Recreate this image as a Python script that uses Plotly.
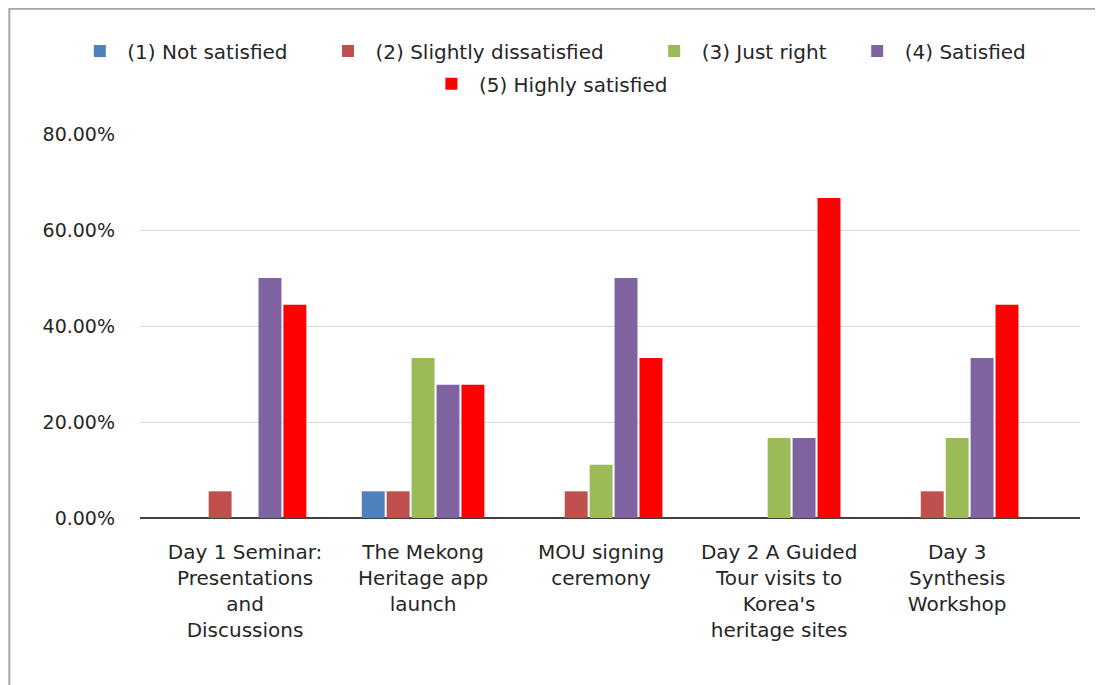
import plotly.graph_objects as go

# Share of respondents per rating, n = 18
events = [
    "Day 1 Seminar:<br>Presentations<br>and<br>Discussions",
    "The Mekong<br>Heritage app<br>launch",
    "MOU signing<br>ceremony",
    "Day 2 A Guided<br>Tour visits to<br>Korea's<br>heritage sites",
    "Day 3<br>Synthesis<br>Workshop",
]
not_satisfied = [0.0, 0.0556, 0.0, 0.0, 0.0]
slightly_dissatisfied = [0.0556, 0.0556, 0.0556, 0.0, 0.0556]
just_right = [0.0, 0.3333, 0.1111, 0.1667, 0.1667]
satisfied = [0.50, 0.2778, 0.50, 0.1667, 0.3333]
highly_satisfied = [0.4444, 0.2778, 0.3333, 0.6667, 0.4444]

series = [
    ("(1) Not satisfied", not_satisfied, "#4F81BD"),
    ("(2) Slightly dissatisfied", slightly_dissatisfied, "#C0504D"),
    ("(3) Just right", just_right, "#9BBB59"),
    ("(4) Satisfied", satisfied, "#8064A2"),
    ("(5) Highly satisfied", highly_satisfied, "#FF0000"),
]

# one legend per entry so the spacing can follow the original layout
legend_pos = [(-0.072, 1.216), (0.192, 1.216), (0.539, 1.216),
              (0.755, 1.216), (0.302, 1.131)]

text_color = "#262626"
tick_font = dict(family="DejaVu Sans", size=19, color=text_color)
cat_font = dict(family="DejaVu Sans", size=20, color=text_color)
leg_font = dict(family="DejaVu Sans", size=20, color=text_color)

fig = go.Figure()
for i, (name, vals, color) in enumerate(series):
    leg = "legend" if i == 0 else f"legend{i + 1}"
    fig.add_trace(
        go.Bar(
            x=events, y=vals, name=name, legend=leg, showlegend=True,
            marker=dict(color=color, line=dict(width=0)),
        )
    )

layout = dict(
    width=1103, height=685, showlegend=True,
    barmode="group", bargap=0.3, bargroupgap=0.08,
    margin=dict(l=132, r=31, t=126, b=175),
    paper_bgcolor="white", plot_bgcolor="white",
    font=dict(family="DejaVu Sans", color=text_color),
    xaxis=dict(
        range=[-0.59, 4.69], showgrid=False, ticks="",
        showline=False, tickfont=cat_font, ticklabelstandoff=20,
    ),
    yaxis=dict(
        range=[0, 0.8], tickvals=[0, 0.2, 0.4, 0.6, 0.8], tickformat=".2%",
        gridcolor="#d9d9d9", gridwidth=1, zeroline=True,
        zerolinecolor="#404040", zerolinewidth=2, ticks="",
        showline=False, tickfont=tick_font, ticklabelstandoff=24,
    ),
    shapes=[
        dict(
            type="rect", xref="paper", yref="paper",
            x0=-0.139, x1=1.2, y0=-0.6, y1=1.326,
            line=dict(color="#a6a6a6", width=2), layer="below",
        )
    ],
)
for i, (lx, ly) in enumerate(legend_pos):
    key = "legend" if i == 0 else f"legend{i + 1}"
    layout[key] = dict(
        orientation="h", x=lx, xanchor="left", y=ly, yanchor="middle",
        font=leg_font, itemwidth=45, bgcolor="rgba(0,0,0,0)",
        visible=True,
    )
fig.update_layout(**layout)

fig.write_html("out.html")
